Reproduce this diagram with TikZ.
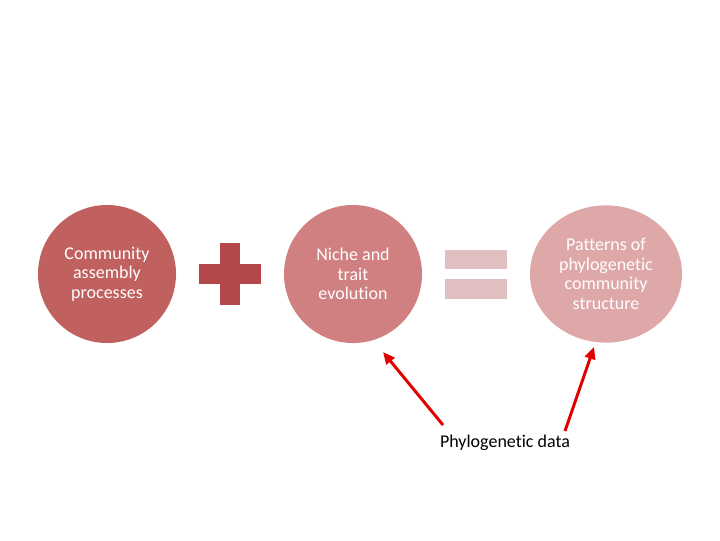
\documentclass[tikz,border=0pt]{standalone}
\usepackage{fontspec}
\setmainfont{Carlito}[Ligatures=NoCommon]
\usetikzlibrary{shapes.geometric,arrows.meta}
\definecolor{assembly}{HTML}{C0605F}
\definecolor{plusbar}{HTML}{B4474A}
\definecolor{niche}{HTML}{D08080}
\definecolor{eqbar}{HTML}{E0BFC1}
\definecolor{pattern}{HTML}{DEA7A8}
\definecolor{arrowred}{HTML}{E00000}
\begin{document}
\begin{tikzpicture}[x=0.025cm, y=-0.025cm,
  blob/.style={circle, minimum size=3.45cm, inner sep=0pt, align=center, text=white,
    font=\fontsize{12.8}{13.9}\selectfont},
  bar/.style={rectangle, inner sep=0pt},
  note/.style={font=\fontsize{12.8}{13.9}\selectfont, align=center},
  link/.style={draw=arrowred, line width=2.1pt, -{Triangle[length=0.3cm, width=0.26cm]}}
]
\useasboundingbox (0,0) rectangle (720,540);
\node[blob, fill=assembly] (assembly) at (107,274) {Community\\assembly\\processes};
\node[bar, fill=plusbar, minimum width=0.5cm, minimum height=1.55cm] (plusv) at (230,274) {};
\node[bar, fill=plusbar, minimum width=1.525cm, minimum height=0.5cm] (plush) at (230,274) {};
\node[blob, fill=niche] (niche) at (353,274) {Niche and\\trait\\evolution};
\node[bar, fill=eqbar, minimum width=1.55cm, minimum height=0.49cm] (eqtop) at (476,259.5) {};
\node[bar, fill=eqbar, minimum width=1.55cm, minimum height=0.49cm] (eqbot) at (476,289) {};
\node[blob, ellipse, fill=pattern, minimum width=3.8cm, minimum height=3.43cm] (pattern) at (606,274)
  {Patterns of\\phylogenetic\\community\\structure};
\node[note] (data) at (505,443) {Phylogenetic data};
\coordinate (tipniche) at (383,352);
\coordinate (tippattern) at (594,347);
\coordinate (fromleft) at (443,425);
\coordinate (fromright) at (565,431);
\draw[link] (fromleft) -- (tipniche);
\draw[link] (fromright) -- (tippattern);
\end{tikzpicture}
\end{document}
